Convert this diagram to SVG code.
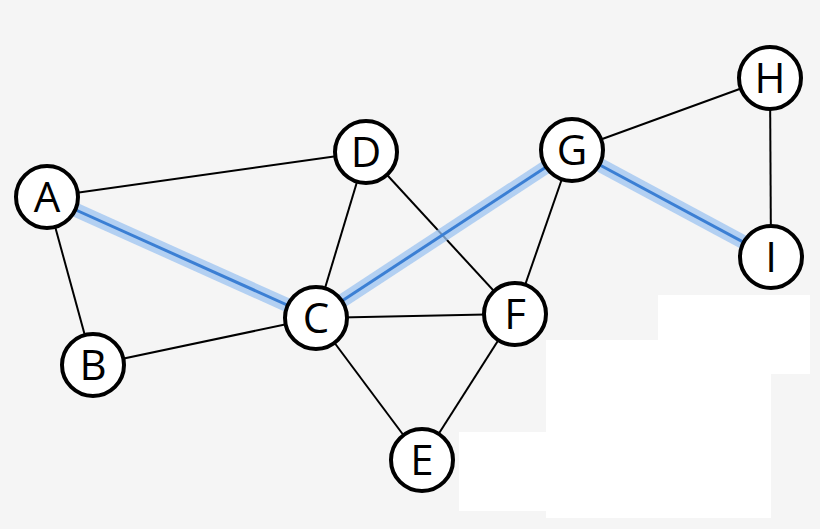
<svg xmlns="http://www.w3.org/2000/svg" width="820" height="529" viewBox="0 0 820 529">
<defs>
<style>
.e{stroke:#000;stroke-width:2}
.h{stroke:#3b7fd4;stroke-width:3}
.g{stroke:#9cc3f0;stroke-width:14;stroke-opacity:0.75}
.n circle{fill:#fff;stroke:#000;stroke-width:4}
.n text{font-family:"Open Sans","Liberation Sans",sans-serif;font-size:42px;text-anchor:middle;fill:#000}
</style>
</defs>
<rect width="820" height="529" fill="#f5f5f5"/>
<rect x="658" y="295" width="152" height="79" fill="#fff"/>
<rect x="546" y="340" width="225" height="178" fill="#fff"/>
<rect x="459" y="432" width="87" height="79" fill="#fff"/>
<g id="connectors">
<line class="e" x1="47" y1="197" x2="93" y2="365"/>
<line class="e" x1="47" y1="197" x2="366" y2="152"/>
<line class="e" x1="93" y1="365" x2="316" y2="318"/>
<line class="e" x1="366" y1="152" x2="316" y2="318"/>
<line class="e" x1="366" y1="152" x2="515" y2="314"/>
<line class="e" x1="316" y1="318" x2="515" y2="314"/>
<line class="e" x1="316" y1="318" x2="422" y2="460"/>
<line class="e" x1="515" y1="314" x2="422" y2="460"/>
<line class="e" x1="572" y1="150" x2="515" y2="314"/>
<line class="e" x1="572" y1="150" x2="770" y2="78"/>
<line class="e" x1="770" y1="78" x2="771" y2="257"/>
<g id="highlight">
<line class="g" x1="47" y1="197" x2="316" y2="318"/>
<line class="g" x1="316" y1="318" x2="572" y2="150"/>
<line class="g" x1="572" y1="150" x2="771" y2="257"/>
<line class="h" x1="47" y1="197" x2="316" y2="318"/>
<line class="h" x1="316" y1="318" x2="572" y2="150"/>
<line class="h" x1="572" y1="150" x2="771" y2="257"/>
</g>
</g>
<g id="A" class="n"><circle cx="47" cy="197" r="31"/><text x="47" y="212">A</text></g>
<g id="B" class="n"><circle cx="93" cy="365" r="31"/><text x="93" y="380">B</text></g>
<g id="C" class="n"><circle cx="316" cy="318" r="31"/><text x="316" y="333">C</text></g>
<g id="D" class="n"><circle cx="366" cy="152" r="31"/><text x="366" y="167">D</text></g>
<g id="E" class="n"><circle cx="422" cy="460" r="31"/><text x="422" y="475">E</text></g>
<g id="F" class="n"><circle cx="515" cy="314" r="31"/><text x="515" y="329">F</text></g>
<g id="G" class="n"><circle cx="572" cy="150" r="31"/><text x="572" y="165">G</text></g>
<g id="H" class="n"><circle cx="770" cy="78" r="31"/><text x="770" y="93">H</text></g>
<g id="I" class="n"><circle cx="771" cy="257" r="31"/><text x="771" y="272">I</text></g>
</svg>
